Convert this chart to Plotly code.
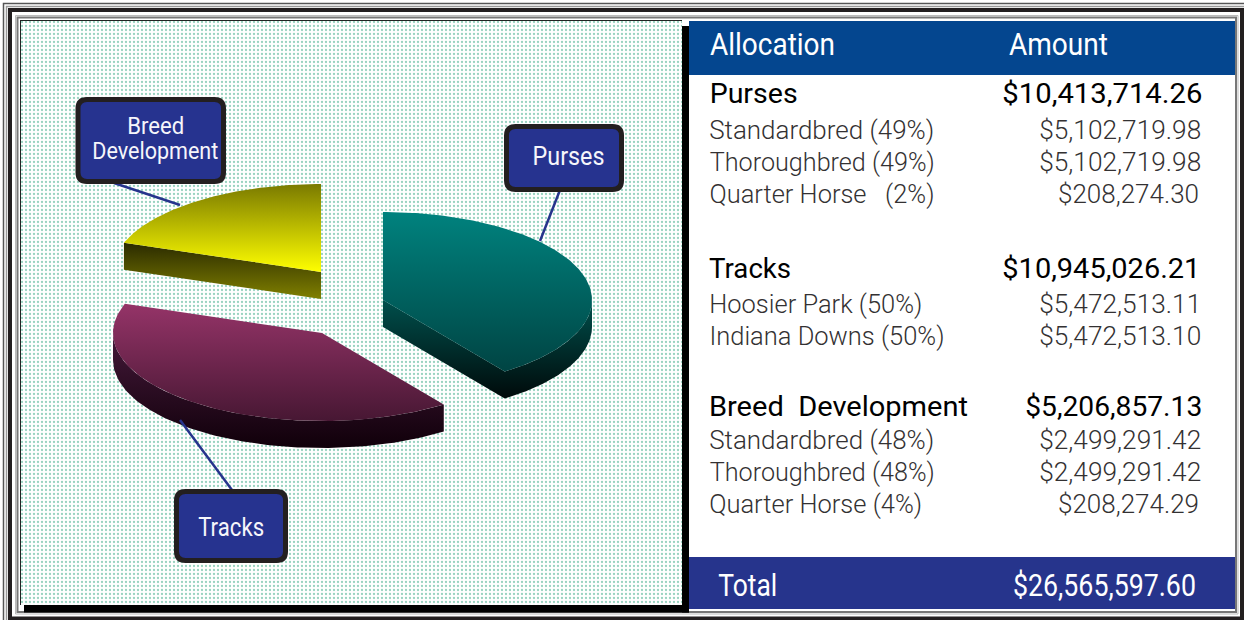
import json
import numpy as np
import plotly.graph_objects as go

# ---- data ----
slice_names = ["Purses", "Tracks", "Breed Development"]
slice_shares_pct = [40.1, 40.3, 19.6]  # shares as drawn by the wedges

group_titles = ["Purses", "Tracks", "Breed  Development"]
group_amounts = ["$10,413,714.26", "$10,945,026.21", "$5,206,857.13"]
purse_rows = ["Standardbred (49%)", "Thoroughbred (49%)", "Quarter Horse   (2%)"]
purse_amounts = ["$5,102,719.98", "$5,102,719.98", "$208,274.30"]
track_rows = ["Hoosier Park (50%)", "Indiana Downs (50%)"]
track_amounts = ["$5,472,513.11", "$5,472,513.10"]
breed_rows = ["Standardbred (48%)", "Thoroughbred (48%)", "Quarter Horse (4%)"]
breed_amounts = ["$2,499,291.42", "$2,499,291.42", "$208,274.29"]
header_labels = ["Allocation", "Amount"]
total_label = "Total"
total_amount = "$26,565,597.60"

# ---- style / layout ----
W, H = 1244, 620
LIGHT = "Roboto, Liberation Sans, sans-serif"
RX, RY, DEPTH = 209, 88, 27
centers = {"Purses": (383, 300), "Tracks": (322, 333), "Breed Development": (321, 272)}
top_scales = {
    "Purses": ["#00827e", "#004443"],
    "Tracks": ["#953468", "#471733"],
    "Breed Development": ["#7a7a00", "#ffff00"],
}
side_scales = {
    "Purses": ["#004f4c", "#000a0a"],
    "Tracks": ["#45193a", "#10000a"],
    "Breed Development": ["#2a2a00", "#808000"],
}


def rim(cx, cy, angles_deg):
    a = np.radians(angles_deg)
    return cx + RX * np.sin(a), cy - RY * np.cos(a)


def grad(colors):
    return dict(type="vertical", colorscale=[[0, colors[1]], [1, colors[0]]])


fig = go.Figure()

# stippled panel
fig.add_trace(go.Scatter(
    x=[21, 682, 682, 21, 21], y=[21, 21, 605, 605, 21], mode="lines", fill="toself",
    line=dict(width=0), hoverinfo="skip", fillcolor="white",
    fillpattern=dict(shape=".", size=4, solidity=0.26, fgcolor="#2fa67f", bgcolor="#ffffff"),
))

cum = np.cumsum([0] + slice_shares_pct) / sum(slice_shares_pct) * 360
for name, t0, t1 in zip(slice_names, cum[:-1], cum[1:]):
    cx, cy = centers[name]
    # visible side wall
    a0, a1 = max(t0, 90), min(t1, 270)
    xs, ys = [cx, cx], [cy, cy + DEPTH]
    if a1 > a0:
        arc = np.linspace(a0, a1, 90)
        ax, ay = rim(cx, cy, arc)
        if t0 >= 90 and t0 < 180:  # radial walls hidden, arc only
            xs, ys = list(ax), list(ay + DEPTH)
            xs += list(ax[::-1]); ys += list(ay[::-1])
        else:
            xs += list(ax[::-1]); ys += list(ay[::-1] + DEPTH)
            xs += list(ax); ys += list(ay)
    else:
        ex, ey = rim(cx, cy, np.array([t0]))
        xs += [ex[0], ex[0]]; ys += [ey[0] + DEPTH, ey[0]]
    xs.append(xs[0]); ys.append(ys[0])
    fig.add_trace(go.Scatter(x=xs, y=ys, mode="lines", fill="toself", line=dict(width=0),
                             fillgradient=grad(side_scales[name]), hoverinfo="skip"))
    # top face
    arc = np.linspace(t0, t1, 160)
    ax, ay = rim(cx, cy, arc)
    fig.add_trace(go.Scatter(x=[cx] + list(ax) + [cx], y=[cy] + list(ay) + [cy], mode="lines",
                             fill="toself", line=dict(width=0),
                             fillgradient=grad(top_scales[name]), hoverinfo="skip"))

shapes = []


def rect(x0, y0, x1, y1, color, width=1):
    shapes.append(dict(type="rect", xref="x", yref="y", x0=x0, y0=y0, x1=x1, y1=y1, layer="below",
                       line=dict(color=color, width=width), fillcolor="rgba(0,0,0,0)"))


def solid(x0, y0, x1, y1, color):
    shapes.append(dict(type="rect", xref="x", yref="y", x0=x0, y0=y0, x1=x1, y1=y1, layer="below",
                       line=dict(width=0), fillcolor=color))


# nested frame
rect(3.5, 3.5, 1250, 630, "#555555", 1.5)
rect(6.5, 6.5, 1250, 630, "#999999", 1.5)
rect(10, 10, 1242, 618.5, "#231f20", 4)
rect(15.5, 15.5, 1238, 614, "#bbbbbb", 1)
rect(17.5, 17.5, 1236, 612, "#777777", 2)
# panel shadow and edge
solid(24, 605, 689, 612.5, "#000000")
solid(682, 26, 689, 612.5, "#000000")
solid(20, 20, 682, 21.5, "#222222")
solid(20, 20, 21.5, 605, "#222222")
# table bars
solid(689, 21, 1235, 75, "#04468f")
solid(689, 557, 1235, 609, "#26348c")


def leader(x0, y0, x1, y1):
    shapes.append(dict(type="line", xref="x", yref="y", x0=x0, y0=y0, x1=x1, y1=y1, layer="above",
                       line=dict(color="#26348c", width=2.5)))


def callout(x0, y0, x1, y1, r=9):
    p = (f"M {x0+r},{y0} L {x1-r},{y0} Q {x1},{y0} {x1},{y0+r} L {x1},{y1-r} Q {x1},{y1} {x1-r},{y1} "
         f"L {x0+r},{y1} Q {x0},{y1} {x0},{y1-r} L {x0},{y0+r} Q {x0},{y0} {x0+r},{y0} Z")
    shapes.append(dict(type="path", xref="x", yref="y", path=p, layer="above",
                       line=dict(color="#231f20", width=5), fillcolor="#26338f"))


leader(560, 190, 540, 241)
leader(114, 183, 180, 205)
leader(232, 490, 180, 420)
callout(78, 99.5, 223.5, 181.5)
callout(506.5, 126.5, 621.5, 189.5)
callout(176.5, 491.5, 285.5, 560.5)

ann = []
fit_widths = []


def text(x0, x1, y, s, size, color, family, weight=400):
    # every label is centred on its span and fitted to that span's width
    ann.append(dict(x=(x0 + x1) / 2, y=y, xref="x", yref="y", text=s, showarrow=False,
                    xanchor="center", yanchor="middle", borderpad=0,
                    font=dict(size=size, color=color, family=family, weight=weight)))
    fit_widths.append(x1 - x0)


WHITE = "#f6f6fb"
text(127, 184, 126, "Breed", 23, WHITE, LIGHT)
text(92, 218, 151, "Development", 23, WHITE, LIGHT)
text(532, 604, 156, slice_names[0], 25, WHITE, LIGHT)
text(198, 264, 527, slice_names[1], 25, WHITE, LIGHT)

text(710, 835, 44, header_labels[0], 32, "#ffffff", LIGHT)
text(1009, 1108, 44, header_labels[1], 32, "#ffffff", LIGHT)
text(718, 777, 585, total_label, 32, "#ffffff", LIGHT)
text(1013, 1196, 585, total_amount, 32, "#ffffff", LIGHT)

GREY = "#333132"
DARK = "#000000"
group_y = [94, 269, 407]
group_left_span = [(709, 797), (709, 791), (709, 968)]
group_right_span = [(1002, 1202), (1002, 1200), (1025, 1202)]
row_y = [[130, 162, 194], [304, 336], [440, 472, 504]]
row_left_end = [[934, 934, 934], [922, 944], [934, 934, 922]]
row_right_span = [[(1039, 1201), (1039, 1201), (1058, 1199)],
                  [(1039, 1201), (1039, 1201)],
                  [(1039, 1201), (1039, 1201), (1058, 1199)]]
rows = [purse_rows, track_rows, breed_rows]
amounts = [purse_amounts, track_amounts, breed_amounts]
for g in range(3):
    text(*group_left_span[g], group_y[g], group_titles[g], 27, DARK, LIGHT)
    text(*group_right_span[g], group_y[g], group_amounts[g], 27, DARK, LIGHT)
    for lab, amt, y, xe, span in zip(rows[g], amounts[g], row_y[g], row_left_end[g], row_right_span[g]):
        text(709, xe, y, lab, 26, GREY, LIGHT, 300)
        text(*span, y, amt, 26, GREY, LIGHT, 300)

fig.update_layout(
    width=W, height=H, autosize=False, showlegend=False,
    margin=dict(l=0, r=0, t=0, b=0),
    paper_bgcolor="#ffffff", plot_bgcolor="#ffffff",
    xaxis=dict(range=[0, W], visible=False, fixedrange=True),
    yaxis=dict(range=[H, 0], visible=False, fixedrange=True),
    shapes=shapes, annotations=ann,
)
post = (
    "document.body.style.margin='0';document.body.style.overflow='hidden';"
    "var w=" + json.dumps(fit_widths) + ";"
    "document.querySelectorAll('.annotation-text').forEach(function(t,i){"
    "t.setAttribute('textLength',w[i]);t.setAttribute('lengthAdjust','spacingAndGlyphs');});"
)
fig.write_html("out.html", config={"displayModeBar": False}, post_script=post)
